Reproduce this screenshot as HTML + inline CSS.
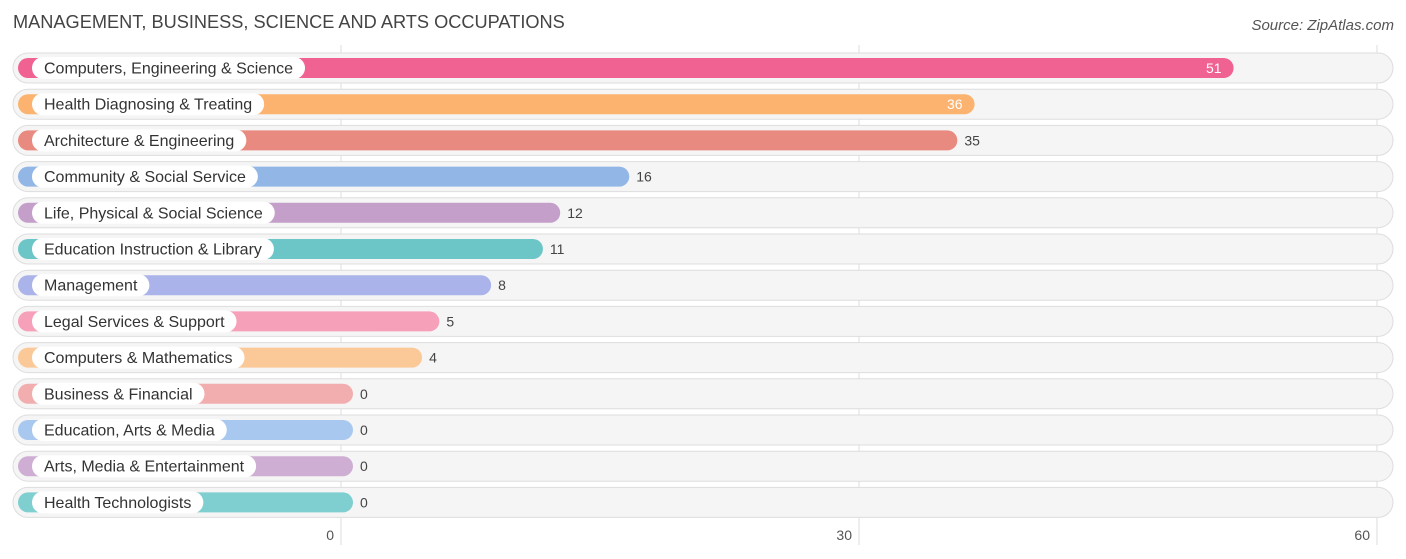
<!DOCTYPE html>
<html><head><meta charset="utf-8"><style>
body{margin:0;background:#fff;font-family:"Liberation Sans",sans-serif}
svg{display:block}
</style></head><body>
<svg id="c" width="1406" height="559">
<text x="13" y="28" font-size="18.2" fill="#444">MANAGEMENT, BUSINESS, SCIENCE AND ARTS OCCUPATIONS</text>
<text x="1394" y="30" font-size="15" fill="#555" font-style="italic" text-anchor="end">Source: ZipAtlas.com</text>
<g id="grid"></g><g id="rows"></g><g id="ticks"></g>
</svg>
<script>
const categories=["Computers, Engineering & Science","Health Diagnosing & Treating","Architecture & Engineering","Community & Social Service","Life, Physical & Social Science","Education Instruction & Library","Management","Legal Services & Support","Computers & Mathematics","Business & Financial","Education, Arts & Media","Arts, Media & Entertainment","Health Technologists"];
const values=[51,36,35,16,12,11,8,5,4,0,0,0,0];
const colors=["#f06292","#fbb36f","#e98a80","#92b7e6","#c39fca","#6cc6c8","#aab3ea","#f6a0ba","#fbc998","#f2aeae","#a9c8ef","#cfaed3","#7fcfd0"];
const tickValues=[0,30,60];
const NS="http://www.w3.org/2000/svg";
const x0=341,ppu=(1377-341)/60;
const xs=v=>x0+v*ppu;
const barEnd=v=>353+v*ppu;
const rowY=i=>68+i*36.2;
function mk(t,a,p){const e=document.createElementNS(NS,t);for(const k in a)e.setAttribute(k,a[k]);p.appendChild(e);return e;}
const grid=document.getElementById('grid'),rows=document.getElementById('rows'),ticks=document.getElementById('ticks');
tickValues.forEach(v=>{
 const l=mk('line',{x1:xs(v),x2:xs(v),y1:45,y2:545,stroke:'#ddd','stroke-width':1},grid);
 
 
 const t=mk('text',{x:xs(v)-7,y:540,'font-size':14,fill:'#555','text-anchor':'end'},ticks);
 t.textContent=v;
 
 
});
categories.forEach((c,i)=>{
 const cy=rowY(i);
 const g=mk('g',{},rows);
 
 
 const bg=mk('rect',{x:13,y:cy-15,width:1380,height:30,rx:15,fill:'#f5f5f5',stroke:'#ddd','stroke-width':1},g);
 
 
 const e=barEnd(values[i]);
 const b=mk('rect',{x:18,y:cy-10,width:e-18,height:20,rx:10,fill:colors[i]},g);
 
 
 const p=mk('rect',{x:32,y:cy-11,width:100,height:22,rx:11,fill:'#fff'},g);
 
 
 const lt=mk('text',{x:44,y:cy+5.5,'font-size':16,fill:'#333'},g);
 lt.textContent=c;
 
 
 let w=c.length*7.6;
 try{w=lt.getComputedTextLength();}catch(err){}
 p.setAttribute('width',w+24);
 const inside=values[i]>35;
 const vt=mk('text',{x:inside?e-12:e+7,y:cy+5,'font-size':14,fill:inside?'#fff':'#444','text-anchor':inside?'end':'start'},g);
 vt.textContent=values[i];
 
 
});
</script>
</body></html>
